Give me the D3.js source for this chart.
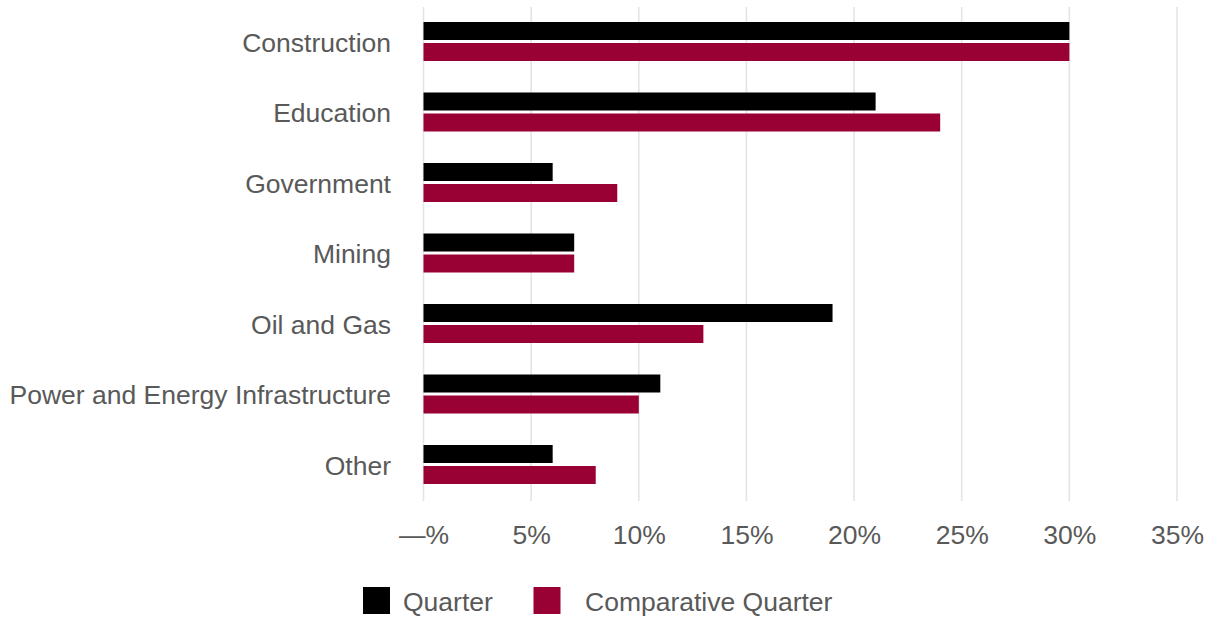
<!DOCTYPE html>
<html>
<head>
<meta charset="utf-8">
<script src="https://cdn.jsdelivr.net/npm/d3@7"></script>
<style>
  html, body { margin: 0; padding: 0; background: #ffffff; }
  svg { display: block; font-family: "Liberation Sans", Arial, sans-serif; }
</style>
</head>
<body>
<svg id="chart" width="1211" height="618"></svg>
<script>
// Share of revenue by end market, in percent
const categories = ["Construction", "Education", "Government", "Mining", "Oil and Gas", "Power and Energy Infrastructure", "Other"];
const seriesNames = ["Quarter", "Comparative Quarter"];
const quarterValues = [30, 21, 6, 7, 19, 11, 6];
const comparativeValues = [30, 24, 9, 7, 13, 10, 8];
const tickValues = [0, 5, 10, 15, 20, 25, 30, 35];
const colors = ["#000000", "#990033"];

const svg = d3.select("#chart");
const textColor = "#595959";
const fontSize = 26.5;

const x = d3.scaleLinear().domain([0, 35]).range([423.5, 1177]);
const y = d3.scaleBand().domain(categories).range([6.25, 499.75]).paddingInner(0).paddingOuter(0);
const pairHeight = 39;
const offset = (y.bandwidth() - pairHeight) / 2;
const ySub = d3.scaleBand().domain(seriesNames)
  .range([offset, offset + pairHeight]).paddingInner(3 / 21).paddingOuter(0);

// vertical gridlines
svg.append("g").selectAll("line").data(tickValues).join("line")
  .attr("x1", d => x(d)).attr("x2", d => x(d))
  .attr("y1", 7).attr("y2", 501)
  .attr("stroke", "#e4e4e4").attr("stroke-width", 1.6);

// x tick labels
const xAxis = d3.axisBottom(x).tickValues(tickValues)
  .tickFormat(d => d === 0 ? "\u2014%" : d + "%").tickSize(0).tickPadding(0);
const gx = svg.append("g").attr("transform", "translate(0,525)").call(xAxis);
gx.select(".domain").remove();
gx.selectAll("text").attr("fill", textColor).attr("font-size", fontSize)
  .attr("font-family", "'Liberation Sans', Arial, sans-serif")
  .attr("dy", "0.71em");

// category labels
const yAxis = d3.axisLeft(y).tickSize(0).tickPadding(0);
const gy = svg.append("g").attr("transform", "translate(391,1)").call(yAxis);
gy.select(".domain").remove();
gy.selectAll("text").attr("fill", textColor).attr("font-size", fontSize)
  .attr("font-family", "'Liberation Sans', Arial, sans-serif")
  .attr("dy", "0.35em");

// bars
const rows = categories.map((c, i) => ({ cat: c, vals: [quarterValues[i], comparativeValues[i]] }));
const groups = svg.append("g").selectAll("g").data(rows).join("g")
  .attr("transform", d => `translate(0,${y(d.cat)})`);
groups.selectAll("rect").data(d => d.vals.map((v, j) => ({ v, s: seriesNames[j], j })))
  .join("rect")
  .attr("x", x(0))
  .attr("y", d => ySub(d.s))
  .attr("width", d => x(d.v) - x(0))
  .attr("height", ySub.bandwidth())
  .attr("fill", d => colors[d.j]);

// legend
const legendItems = [
  { name: seriesNames[0], color: colors[0], x: 363, tx: 403 },
  { name: seriesNames[1], color: colors[1], x: 533.5, tx: 585 }
];
const lg = svg.append("g").selectAll("g").data(legendItems).join("g");
lg.append("rect").attr("x", d => d.x).attr("y", 587).attr("width", 27).attr("height", 27)
  .attr("fill", d => d.color);
lg.append("text").attr("x", d => d.tx).attr("y", 611)
  .attr("fill", textColor).attr("font-size", fontSize)
  .text(d => d.name);
</script>
</body>
</html>
